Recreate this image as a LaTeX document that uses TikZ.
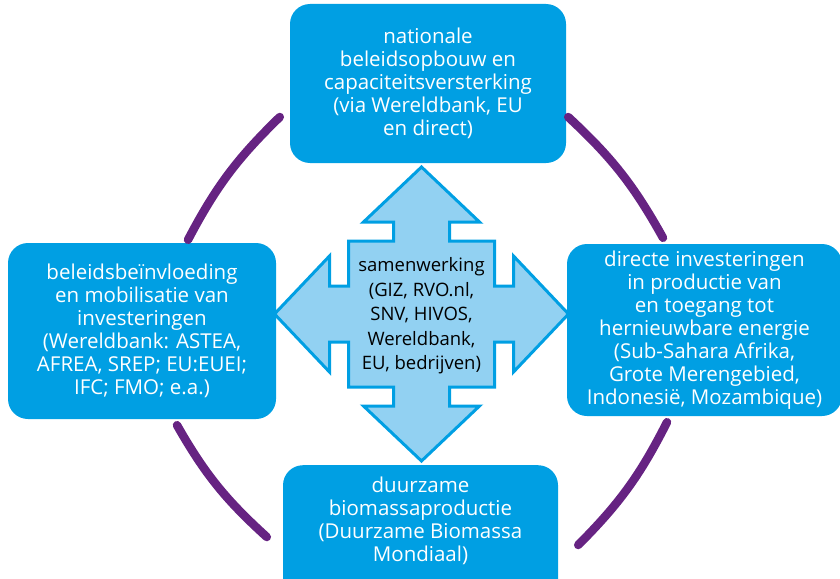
\documentclass[tikz,border=0pt]{standalone}
\usepackage{fontspec}
\setmainfont{Open Sans}
\usetikzlibrary{calc}

\definecolor{roblue}{RGB}{0,159,227}
\definecolor{rolight}{RGB}{146,209,242}
\definecolor{ropurple}{RGB}{102,35,130}

\begin{document}
\begin{tikzpicture}[x=1pt,y=-1pt,
    box/.style={fill=roblue, rounded corners=20pt, text=white, align=center,
        inner sep=0pt, font=\fontsize{20.5}{23}\selectfont},
    boxtext/.style={text=white, align=center, inner sep=0pt,
        font=\fontsize{20.5}{23}\selectfont},
    cyclearc/.style={draw=ropurple, line width=8.5pt, line cap=round}]

\useasboundingbox (0,0) rectangle (840,578);
\clip (0,0) rectangle (840,578);

% Boxes
\node[box, minimum width=276pt, minimum height=159pt] (nat) at (428,83.5)
    {nationale\\beleidsopbouw en\\capaciteitsversterking\\(via Wereldbank, EU\\en direct)};
\node[box, minimum width=268pt, minimum height=176pt] (pol) at (142,331)
    {beleidsbeïnvloeding\\en mobilisatie van\\investeringen\\(Wereldbank: ASTEA,\\AFREA, SREP; EU:EUEI;\\IFC; FMO; e.a.)};
\node[box, minimum width=275pt, minimum height=172pt] (dir) at (704.5,330)
    {directe investeringen\\in productie van\\en toegang tot\\hernieuwbare energie\\(Sub-Sahara Afrika,\\Grote Merengebied,\\Indonesië, Mozambique)};
\node[box, minimum width=275pt, minimum height=140pt, anchor=north] (bio) at (420.5,465) {};
\node[boxtext] (biotext) at (420.5,521)
    {duurzame\\biomassaproductie\\(Duurzame Biomassa\\Mondiaal)};

% Cross arrow
\coordinate (hub) at (421.5,314);
\draw[draw=roblue, fill=rolight, line width=3pt, shift={(hub)}]
    (0,-147) -- (58,-92) -- (28,-92) -- (28,-73) -- (73,-73) -- (73,-28)
    -- (92,-28) -- (92,-58) -- (147,0) -- (92,58) -- (92,28) -- (73,28)
    -- (73,73) -- (28,73) -- (28,92) -- (58,92) -- (0,147) -- (-58,92)
    -- (-28,92) -- (-28,73) -- (-73,73) -- (-73,28) -- (-92,28) -- (-92,58)
    -- (-147,0) -- (-92,-58) -- (-92,-28) -- (-73,-28) -- (-73,-73)
    -- (-28,-73) -- (-28,-92) -- (-58,-92) -- cycle;
\node[align=center, inner sep=0pt, font=\fontsize{18.5}{24.5}\selectfont] (coop)
    at ($(hub)+(0,2)$)
    {samenwerking\\(GIZ, RVO.nl,\\SNV, HIVOS,\\Wereldbank,\\EU, bedrijven)};

% Connection
\draw[cyclearc] ($(nat.west)+(-10,33.5)$) to[bend right=9] ($(pol.north)+(46,-3)$);
\draw[cyclearc] ($(nat.east)+(2,33.5)$) to[bend left=9] ($(dir.north)+(-41.5,-6)$);
\draw[cyclearc] ($(pol.south)+(35,6)$) to[bend right=9] ($(bio.north west)+(-16,72)$);
\draw[cyclearc] ($(dir.south)+(-37.5,6)$) to[bend left=9] ($(bio.north east)+(20,80)$);

\end{tikzpicture}
\end{document}
